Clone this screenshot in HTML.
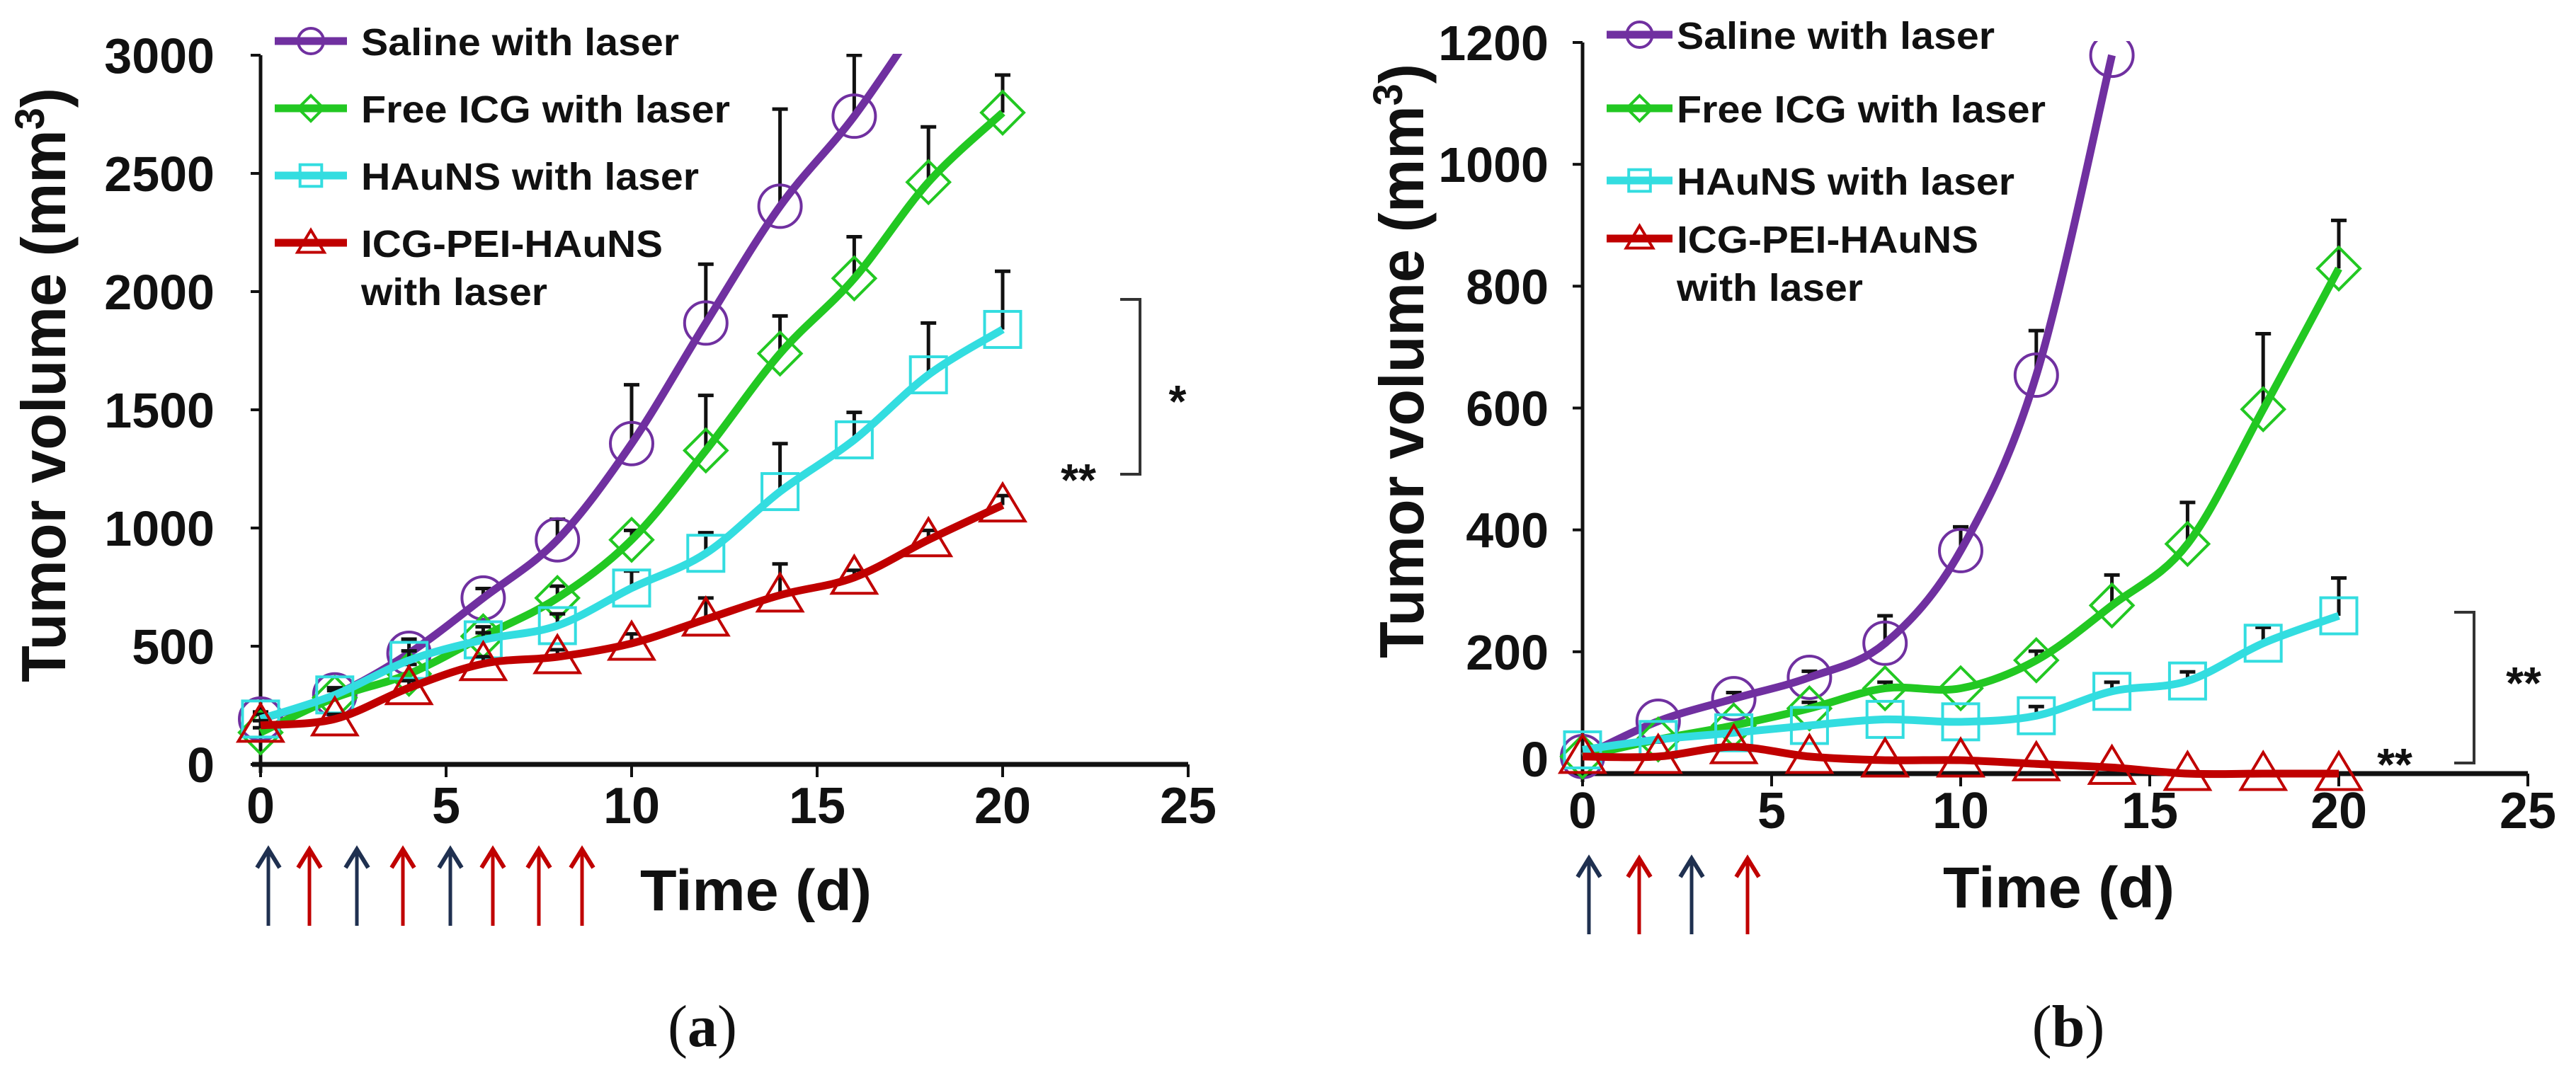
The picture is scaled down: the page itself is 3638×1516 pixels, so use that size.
<!DOCTYPE html>
<html><head><meta charset="utf-8"><style>
body{margin:0;background:#fff}
svg{display:block}
text{font-family:"Liberation Sans",Arial,sans-serif;font-weight:bold;fill:#111}
</style></head><body>
<svg id="s" width="3638" height="1516" viewBox="0 0 3638 1516" xmlns="http://www.w3.org/2000/svg"></svg>
<script>
const daysA=[0,2,4,6,8,10,12,14,16,18,20];
const salineA=[192,294,470,704,950,1357,1867,2361,2742,3200];
const salineAErr=[30,30,60,40,87,249,249,411,258,0];
const freeA=[135,282,383,542,704,950,1328,1738,2056,2463,2757];
const freeAErr=[20,30,40,40,50,40,233,159,176,234,159];
const hauA=[192,294,440,527,587,746,893,1154,1373,1648,1840];
const hauAErr=[20,30,40,30,50,72,87,203,116,219,246];
const icgA=[165,192,324,426,455,512,614,716,791,950,1097];
const icgAErr=[20,20,30,30,30,40,90,132,30,40,40];
const yTicksA=[0,500,1000,1500,2000,2500,3000];
const daysB=[0,2,4,6,8,10,12,14,16,18,20];
const salineB=[28,86,123,158,214,366,654,1179];
const salineBErr=[5,5,10,10,45,39,73,0];
const freeB=[28,56,79,107,140,140,186,276,377,598,829];
const freeBErr=[5,5,5,10,10,5,15,50,68,124,79];
const hauB=[39,56,67,79,89,85,95,135,152,214,259];
const hauBErr=[5,5,5,5,5,5,15,15,15,26,62];
const icgB=[28,28,44,28,22,22,16,10,0,0,0];
const icgBErr=[3,3,5,5,5,5,5,5,3,3,3];
const yTicksB=[0,200,400,600,800,1000,1200];
const xTicks=[0,5,10,15,20,25];
const labels=["Saline with laser","Free ICG with laser","HAuNS with laser","ICG-PEI-HAuNS"];
const labelW=[449,521,477,426];
const colors=["#7030a0","#22c822","#33dde0","#c00000"];
const markers=["circle","diamond","square","triangle"];
const svg=document.getElementById('s');
const NS="http://www.w3.org/2000/svg";
function mk(tag,attrs,parent){const e=document.createElementNS(NS,tag);for(const k in attrs)e.setAttribute(k,attrs[k]);(parent||svg).appendChild(e);return e;}
function smooth(pts){let d=`M${pts[0][0]},${pts[0][1]}`;for(let i=0;i<pts.length-1;i++){const p0=pts[Math.max(i-1,0)],p1=pts[i],p2=pts[i+1],p3=pts[Math.min(i+2,pts.length-1)];d+=` C${p1[0]+(p2[0]-p0[0])/6},${p1[1]+(p2[1]-p0[1])/6} ${p2[0]-(p3[0]-p1[0])/6},${p2[1]-(p3[1]-p1[1])/6} ${p2[0]},${p2[1]}`;}return d;}
function marker(g,type,x,y,c,r){
 if(type==="circle")return mk('circle',{cx:x,cy:y,r:r,fill:'none',stroke:c,'stroke-width':4},g);
 if(type==="diamond")return mk('polygon',{points:`${x},${y-r} ${x+r},${y} ${x},${y+r} ${x-r},${y}`,fill:'none',stroke:c,'stroke-width':4},g);
 if(type==="square")return mk('rect',{x:x-r*0.85,y:y-r*0.85,width:r*1.7,height:r*1.7,fill:'none',stroke:c,'stroke-width':4},g);
 return mk('polygon',{points:`${x},${y-r} ${x+r*1.05},${y+r*0.75} ${x-r*1.05},${y+r*0.75}`,fill:'none',stroke:c,'stroke-width':4},g);
}
function panel(o){
 const g=mk('g',{});
 
 
 const X=v=>o.x0+v/25*(o.x1-o.x0);
 const Y=v=>o.y0-(v/o.ymax)*(o.y0-o.y1);
 const clip=mk('clipPath',{id:'c'+o.id},g);mk('rect',{x:o.x0-50,y:o.y1-2,width:o.x1-o.x0+100,height:o.y0-o.y1+80},clip);
 const ya=mk('line',{x1:o.x0,y1:o.y1,x2:o.x0,y2:o.y0+12,stroke:'#111','stroke-width':5},g);
 
 const xa=mk('line',{x1:o.x0-12,y1:o.y0,x2:o.x1,y2:o.y0,stroke:'#111','stroke-width':7},g);
 
 o.yTicks.forEach(t=>{mk('line',{x1:o.x0-14,y1:Y(t),x2:o.x0,y2:Y(t),stroke:'#111','stroke-width':4},g);
  const ly=t===0?o.zeroLabelY:Y(t)+25;
  const tx=mk('text',{x:o.tickRight,y:ly,'text-anchor':'end','font-size':70},g);tx.textContent=t;
  });
 xTicks.forEach(t=>{mk('line',{x1:X(t),y1:o.y0,x2:X(t),y2:o.y0+18,stroke:'#111','stroke-width':4},g);
  const tx=mk('text',{x:X(t),y:o.xLabY,'text-anchor':'middle','font-size':72},g);tx.textContent=t;
  });
 const yt=mk('text',{x:0,y:0,'text-anchor':'middle','font-size':88,textLength:840,lengthAdjust:'spacingAndGlyphs',transform:`translate(${o.titleX},${o.titleY}) rotate(-90)`},g);
 yt.innerHTML='Tumor volume (mm<tspan dy="-30" font-size="58">3</tspan><tspan dy="30">)</tspan>';
 
 const xt=mk('text',{x:o.timeX,y:o.timeY,'font-size':82,textLength:327,lengthAdjust:'spacingAndGlyphs'},g);xt.textContent='Time (d)';
 
 o.series.forEach((s,i)=>{
  const sg=mk('g',{'clip-path':`url(#c${o.id})`},g);
  
  const pts=s.v.map((v,j)=>[X(o.days[j]),Y(v)]);
  s.v.forEach((v,j)=>{if(s.e[j]>8){const x=X(o.days[j]);mk('line',{x1:x,y1:Y(v),x2:x,y2:Y(v+s.e[j]),stroke:'#111','stroke-width':5},sg);mk('line',{x1:x-11,y1:Y(v+s.e[j]),x2:x+11,y2:Y(v+s.e[j]),stroke:'#111','stroke-width':5},sg);}});
  const p=mk('path',{d:smooth(pts),fill:'none',stroke:colors[i],'stroke-width':11},sg);
  
  s.v.forEach((v,j)=>{if(v<=o.ymax){const m=marker(sg,markers[i],X(o.days[j]),Y(v),colors[i],30);
   }});
 });
 labels.forEach((l,i)=>{
  const lg=mk('g',{},g);
  const ly=o.legY[i];
  mk('line',{x1:o.legX,y1:ly,x2:o.legX2,y2:ly,stroke:colors[i],'stroke-width':11},lg);
  marker(lg,markers[i],(o.legX+o.legX2)/2,ly,colors[i],18);
  const t=mk('text',{x:o.legT,y:ly+20,'font-size':54,textLength:labelW[i],lengthAdjust:'spacingAndGlyphs'},lg);t.textContent=l;
  if(i===3){const t2=mk('text',{x:o.legT,y:ly+88,'font-size':54,textLength:263,lengthAdjust:'spacingAndGlyphs'},lg);t2.textContent='with laser';}
 });
 o.arrows.forEach(a=>{const ag=mk('g',{},g);
  const c=a[1]?'#c00000':'#1f3050';mk('line',{x1:a[0],y1:o.arY2,x2:a[0],y2:o.arY1,stroke:c,'stroke-width':5},ag);
  mk('polyline',{points:`${a[0]-16},${o.arY1+26} ${a[0]},${o.arY1} ${a[0]+16},${o.arY1+26}`,fill:'none',stroke:c,'stroke-width':6},ag);});
 const b=o.bracket;const bg=mk('g',{},g);
 mk('polyline',{points:`${b.x-28},${b.y1} ${b.x},${b.y1} ${b.x},${b.y2} ${b.x-28},${b.y2}`,fill:'none',stroke:'#333','stroke-width':4},bg);
 b.stars.forEach(s=>{const t=mk('text',{x:s[0],y:s[1]+30,'font-size':64,'text-anchor':'middle'},bg);t.textContent=s[2];});
 const cap=mk('text',{x:o.capX,y:1478,'font-size':84,'text-anchor':'middle',style:'font-family:"Liberation Serif",serif;font-weight:normal'},g);
 cap.innerHTML='(<tspan style="font-weight:bold">'+o.id+'</tspan>)';
 
}
panel({id:'a',name:'panel-a',x0:368,x1:1678,y0:1080,y1:78,ymax:3000,yTicks:yTicksA,days:daysA,tickRight:303,zeroLabelY:1105,xLabY:1163,
 titleX:92,titleY:544,timeX:904,timeY:1286,
 series:[{v:salineA,e:salineAErr},{v:freeA,e:freeAErr},{v:hauA,e:hauAErr},{v:icgA,e:icgAErr}],
 legX:388,legX2:490,legT:510,legY:[58,153,248,343],capX:992,
 arrows:[[379,0],[437,1],[504,0],[569,1],[636,0],[696,1],[761,1],[822,1]],arY1:1200,arY2:1308,
 bracket:{x:1610,y1:423,y2:670,stars:[[1663,559,'*'],[1523,670,'**']]}});
panel({id:'b',name:'panel-b',x0:2235,x1:3570,y0:1093,y1:60,ymax:1200,yTicks:yTicksB,days:daysB,tickRight:2187,zeroLabelY:1097,xLabY:1170,
 titleX:2010,titleY:510,timeX:2744,timeY:1282,
 series:[{v:salineB,e:salineBErr},{v:freeB,e:freeBErr},{v:hauB,e:hauBErr},{v:icgB,e:icgBErr}],
 legX:2269,legX2:2362,legT:2368,legY:[49,153,255,337],capX:2921,
 arrows:[[2244,0],[2315,1],[2389,0],[2468,1]],arY1:1213,arY2:1320,
 bracket:{x:3494,y1:865,y2:1078,stars:[[3564,957,'**'],[3382,1072,'**']]}});
</script>
</body></html>
